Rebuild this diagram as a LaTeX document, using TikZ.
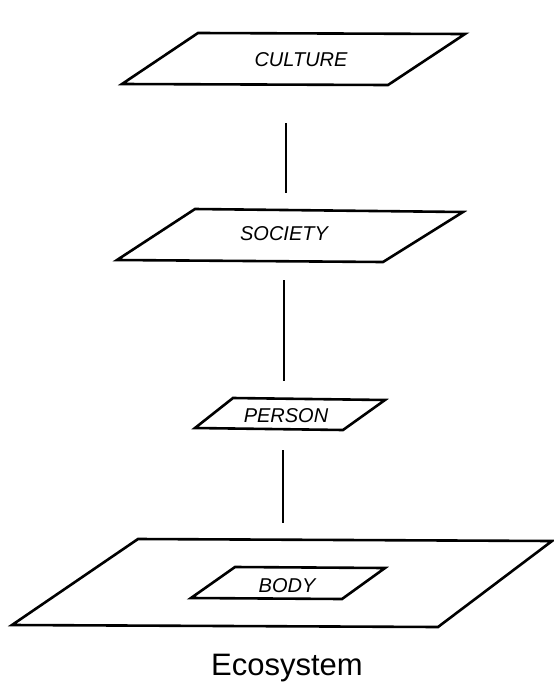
\documentclass[tikz,border=0pt]{standalone}
\usepackage{fontspec}
\setmainfont{Liberation Sans}
\begin{document}
\begin{tikzpicture}[x=1pt,y=-1pt,
  plane/.style={draw=black,line width=2.6pt,line join=miter},
  link/.style={draw=black,line width=2.6pt},
  lbl/.style={font=\fontsize{20}{24}\selectfont\itshape,inner sep=0pt},
  title/.style={font=\fontsize{31}{36}\selectfont,inner sep=0pt}]
\useasboundingbox[fill=white] (0,0) rectangle (554,689);
% planes
\draw[plane] (198,33) -- (465,34) -- (388,85) -- (122,84) -- cycle;
\draw[plane] (195,209) -- (463,212) -- (383,262) -- (117,260) -- cycle;
\draw[plane] (233,398) -- (385,400) -- (343,430) -- (195,428) -- cycle;
\draw[plane] (138,539) -- (552,541) -- (438,627) -- (12,625) -- cycle;
\draw[plane] (235,567) -- (385,568) -- (342,599) -- (191,598) -- cycle;
% labels
\node[lbl] (culture) at (301,60) {CULTURE};
\node[lbl] (society) at (284,234) {SOCIETY};
\node[lbl] (person) at (286,416) {PERSON};
\node[lbl] (body) at (287,586) {BODY};
\node[title] (eco) at (287,668) {Ecosystem};
% connector ends
\coordinate (c1) at (286,123);
\coordinate (c2) at (286,193);
\coordinate (s1) at (284,280);
\coordinate (s2) at (284,381);
\coordinate (p1) at (283,450);
\coordinate (p2) at (283,523);
\draw[link] (c1) -- (c2);
\draw[link] (s1) -- (s2);
\draw[link] (p1) -- (p2);
\end{tikzpicture}
\end{document}
